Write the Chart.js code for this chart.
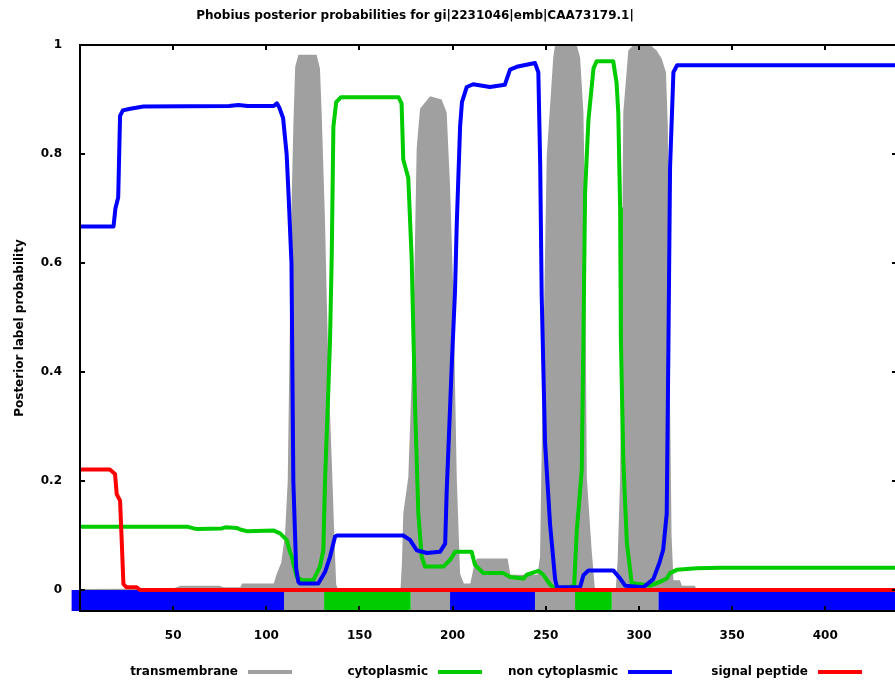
<!DOCTYPE html>
<html>
<head>
<meta charset="utf-8">
<title>Phobius posterior probabilities</title>
<script src="https://cdn.jsdelivr.net/npm/chart.js@4.4.1/dist/chart.umd.min.js"></script>
<style>
    html, body { margin: 0; padding: 0; background: #fff; overflow: hidden; }
    #wrap { width: 900px; height: 684px; }
</style>
</head>
<body>
<div id="wrap"><canvas id="phobiusChart" width="900" height="684"></canvas></div>
<script>
// Phobius per-residue posterior probabilities for one sequence

const titleText = 'Phobius posterior probabilities for gi|2231046|emb|CAA73179.1|';
const yTitleText = 'Posterior label probability';

const xTickValues = [50, 100, 150, 200, 250, 300, 350, 400];
const yTickValues = [0, 0.2, 0.4, 0.6, 0.8, 1];

// transmembrane (filled grey area)
const tmPos = [0, 50, 54, 75, 77, 86, 87, 104, 105.6, 108, 110, 111.5, 112.5, 113.5, 114.5, 115.5, 117.2,
    127, 128.8, 129.7, 131.5, 133.3, 135.1, 136.5, 137.5, 138.5, 172, 172.8, 173.5, 176.2, 178.9, 180.7,
    182.5, 187.9, 194.1, 196.8, 198.6, 200.4, 202.2, 204, 206, 209.5, 211.5, 213, 229.5, 231, 245.5,
    246.9, 248, 250.5, 254, 255, 266.6, 268.4, 270.2, 271, 272, 274.6, 276.4, 287.5, 288.5, 289.9,
    291.6, 294.3, 297, 306, 309.5, 312.2, 314.5, 315.5, 316.5, 317.5, 318.5, 322, 323, 330, 331, 440];
const tmProb = [0.002, 0.003, 0.008, 0.008, 0.005, 0.005, 0.012, 0.012, 0.03, 0.05, 0.1, 0.2, 0.45, 0.7, 0.85, 0.96, 0.982,
    0.982, 0.957, 0.876, 0.676, 0.408, 0.24, 0.1, 0.01, 0, 0, 0.05, 0.14, 0.207, 0.475, 0.81,
    0.883, 0.906, 0.9, 0.876, 0.742, 0.542, 0.207, 0.03, 0.012, 0.012, 0.045, 0.058, 0.058, 0.028, 0.028,
    0.06, 0.3, 0.795, 0.977, 1, 1, 0.977, 0.876, 0.71, 0.207, 0.074, 0, 0, 0.05, 0.207,
    0.876, 0.99, 1, 1, 0.99, 0.975, 0.95, 0.85, 0.4, 0.1, 0.018, 0.018, 0.008, 0.008, 0, 0];

// cytoplasmic
const cytoPos = [0, 58, 61, 63, 76, 78, 84, 86, 89.5, 104, 107.4, 110.9, 112.7, 113.6, 116.3, 119, 125.2,
    128.8, 130.6, 131.5, 133.3, 134.2, 135.1, 136, 137.5, 140, 171, 172.6, 173.5, 176.2, 178, 178.9,
    179.8, 181.6, 183.4, 185.2, 195, 198.6, 201.3, 210.2, 212, 216.5, 227.2, 230.8, 238, 239.8, 246,
    248.7, 252.3, 255, 265.2, 266.6, 269.3, 270.2, 271.1, 272.9, 275.6, 277.3, 286.2, 288, 288.9,
    289.9, 290.3, 291.6, 293.5, 296.1, 306, 311.3, 314.9, 316.7, 320.3, 331, 343.5, 440];
const cytoProb = [0.116, 0.116, 0.113, 0.112, 0.113, 0.115, 0.114, 0.111, 0.108, 0.109, 0.104, 0.092, 0.07, 0.062, 0.024, 0.018, 0.018,
    0.043, 0.073, 0.2, 0.368, 0.46, 0.61, 0.85, 0.895, 0.904, 0.904, 0.893, 0.79, 0.756, 0.61, 0.475,
    0.341, 0.14, 0.061, 0.043, 0.043, 0.055, 0.07, 0.07, 0.046, 0.031, 0.031, 0.024, 0.021, 0.028, 0.035,
    0.028, 0.01, 0.002, 0.007, 0.107, 0.22, 0.46, 0.73, 0.863, 0.957, 0.97, 0.97, 0.93, 0.876,
    0.7, 0.46, 0.24, 0.087, 0.013, 0.008, 0.015, 0.021, 0.031, 0.037, 0.04, 0.041, 0.041];

// non cytoplasmic
const nonCytoPos = [0, 18, 19, 20.5, 21.5, 23, 27, 34, 80, 85, 90, 104, 105.7, 107, 109, 110.9, 112, 113.5,
    114, 114.5, 116, 117.2, 118, 127.9, 131.5, 134.2, 136.9, 138, 173.5, 177.1, 180.7, 186.1, 193.2, 196,
    196.8, 199.5, 201.3, 202.2, 204, 205, 207.6, 211, 220, 228, 230.8, 234.4, 244.2, 246, 247, 247.8,
    249.6, 252.3, 255, 256, 268.4, 270.2, 272.9, 286.2, 289.9, 292.6, 302.4, 307.7, 311, 313, 314.9,
    315.8, 316.7, 318.5, 320.5, 440];
const nonCytoProb = [0.667, 0.667, 0.7, 0.72, 0.87, 0.88, 0.883, 0.887, 0.888, 0.89, 0.888, 0.888, 0.893, 0.885, 0.866, 0.8, 0.72, 0.6,
    0.4, 0.2, 0.04, 0.015, 0.012, 0.012, 0.033, 0.061, 0.098, 0.1, 0.1, 0.092, 0.073, 0.068, 0.07, 0.085,
    0.18, 0.41, 0.55, 0.67, 0.85, 0.895, 0.923, 0.928, 0.923, 0.927, 0.955, 0.96, 0.967, 0.95, 0.78, 0.54,
    0.27, 0.12, 0.02, 0.005, 0.005, 0.027, 0.036, 0.036, 0.021, 0.008, 0.005, 0.02, 0.05, 0.074, 0.14,
    0.44, 0.776, 0.95, 0.963, 0.963];

// signal peptide
const sigPos = [0, 16, 18.8, 19.7, 21.5, 22.4, 23.3, 25, 30.4, 32.2, 440];
const sigProb = [0.221, 0.221, 0.213, 0.176, 0.164, 0.09, 0.011, 0.005, 0.005, 0, 0];

// predicted topology strip under the plot
const regionStart = [-4.5, 109.5, 131, 177.5, 198.6, 244.2, 265.7, 285.4, 310.4];
const regionEnd = [109.5, 131, 177.5, 198.6, 244.2, 265.7, 285.4, 310.4, 440];
const regionKind = ['non', 'tm', 'cyto', 'tm', 'non', 'tm', 'cyto', 'tm', 'non'];

const X_MIN = 0;
const X_MAX = 438.5;
const Y_MIN = -0.0385;
const Y_MAX = 1;

const colors = {
    tm: '#a0a0a0',
    cyto: '#00cc00',
    non: '#0000ff',
    sig: '#ff0000'
};

const legendEntries = [
    ['transmembrane', 'tm'],
    ['cytoplasmic', 'cyto'],
    ['non cytoplasmic', 'non'],
    ['signal peptide', 'sig']
];

const FONT = 'bold 12px "DejaVu Sans"';

function toPoints(pos, vals) {
    return pos.map((x, i) => ({ x: x, y: vals[i] }));
}

function lineSeries(label, pos, vals, color, order) {
    return {
        label: label,
        data: toPoints(pos, vals),
        borderColor: color,
        backgroundColor: color,
        borderWidth: 4,
        borderJoinStyle: 'round',
        pointRadius: 0,
        tension: 0,
        fill: false,
        order: order
    };
}

// strip thickness = distance between y=0 and the bottom of the axis
function stripWidth(ctx) {
    const y = ctx.chart.scales.y;
    if (!y) return 20;
    return y.getPixelForValue(Y_MIN) - y.getPixelForValue(0);
}

const datasets = [
    lineSeries('signal peptide', sigPos, sigProb, colors.sig, 0),
    lineSeries('non cytoplasmic', nonCytoPos, nonCytoProb, colors.non, 1),
    lineSeries('cytoplasmic', cytoPos, cytoProb, colors.cyto, 2),
    {
        label: 'transmembrane',
        data: toPoints(tmPos, tmProb),
        borderWidth: 0,
        borderColor: colors.tm,
        backgroundColor: colors.tm,
        pointRadius: 0,
        tension: 0,
        fill: 'origin',
        order: 4
    }
];

regionStart.forEach((start, i) => {
    datasets.push({
        label: 'region',
        data: [{ x: start, y: Y_MIN / 2 }, { x: regionEnd[i], y: Y_MIN / 2 }],
        borderWidth: stripWidth,
        borderCapStyle: 'butt',
        borderColor: colors[regionKind[i]],
        pointRadius: 0,
        fill: false,
        clip: false,
        order: 3
    });
});

// frame, inward ticks, title and gnuplot style key
const gnuplotDecor = {
    id: 'gnuplotDecor',
    afterDraw(chart) {
        const ctx = chart.ctx;
        const a = chart.chartArea;
        const xs = chart.scales.x;
        const ys = chart.scales.y;
        ctx.save();

        ctx.strokeStyle = '#000';
        ctx.lineWidth = 2;
        ctx.strokeRect(a.left, a.top, a.right - a.left, a.bottom - a.top);

        ctx.beginPath();
        xTickValues.forEach(v => {
            const px = Math.round(xs.getPixelForValue(v));
            ctx.moveTo(px, a.bottom);
            ctx.lineTo(px, a.bottom - 5);
            ctx.moveTo(px, a.top);
            ctx.lineTo(px, a.top + 5);
        });
        yTickValues.forEach(v => {
            const py = Math.round(ys.getPixelForValue(v));
            ctx.moveTo(a.left, py);
            ctx.lineTo(a.left + 5, py);
            ctx.moveTo(a.right, py);
            ctx.lineTo(a.right - 5, py);
        });
        ctx.stroke();

        ctx.font = FONT;
        ctx.fillStyle = '#000';
        ctx.textAlign = 'center';
        ctx.textBaseline = 'middle';
        ctx.fillText(titleText, 415, 16);

        legendEntries.forEach(([label, kind], i) => {
            const textRight = 238 + 190 * i;
            const ly = 672;
            ctx.fillStyle = '#000';
            ctx.textAlign = 'right';
            ctx.fillText(label, textRight, ly);
            ctx.strokeStyle = colors[kind];
            ctx.lineWidth = 4;
            ctx.beginPath();
            ctx.moveTo(textRight + 10, ly);
            ctx.lineTo(textRight + 54, ly);
            ctx.stroke();
        });

        ctx.restore();
    }
};

Chart.defaults.font.family = '"DejaVu Sans"';
Chart.defaults.font.size = 12;
Chart.defaults.font.weight = 'bold';
Chart.defaults.color = '#000';

const chart = new Chart(document.getElementById('phobiusChart'), {
    type: 'line',
    data: { datasets: datasets },
    options: {
        responsive: false,
        animation: false,
        layout: { padding: { left: 0, top: 45, right: 3, bottom: 0 } },
        plugins: {
            legend: { display: false },
            title: { display: false },
            tooltip: { enabled: false }
        },
        scales: {
            x: {
                type: 'linear',
                min: X_MIN,
                max: X_MAX,
                grid: { display: false },
                border: { display: false },
                ticks: { padding: 10, maxRotation: 0, callback: v => String(v) },
                afterBuildTicks: scale => { scale.ticks = xTickValues.map(v => ({ value: v })); },
                afterFit: scale => { scale.height = 73; }
            },
            y: {
                type: 'linear',
                min: Y_MIN,
                max: Y_MAX,
                grid: { display: false },
                border: { display: false },
                ticks: { padding: 10, callback: v => String(v) },
                afterBuildTicks: scale => { scale.ticks = yTickValues.map(v => ({ value: v })); },
                afterFit: scale => { scale.width = 80; },
                title: {
                    display: true,
                    text: yTitleText,
                    padding: { top: 13, bottom: 0 },
                    font: { size: 12, weight: 'bold' }
                }
            }
        }
    },
    plugins: [gnuplotDecor]
});
</script>
</body>
</html>
